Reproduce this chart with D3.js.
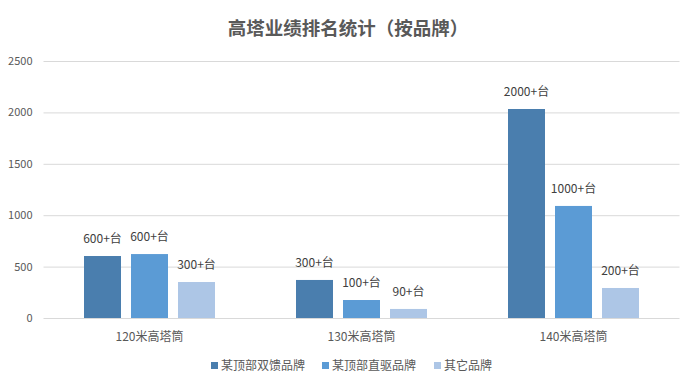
<!DOCTYPE html>
<html>
<head>
<meta charset="utf-8">
<script src="https://cdn.jsdelivr.net/npm/d3@7"></script>
<style>
  body { margin: 0; background: #fff; }
  text { font-family: "Noto Sans CJK SC", "Microsoft YaHei", sans-serif; }
</style>
</head>
<body>
<svg width="694" height="388"></svg>
<script>
// data
const categories = ['120米高塔筒', '130米高塔筒', '140米高塔筒'];
const seriesNames = ['某顶部双馈品牌', '某顶部直驱品牌', '其它品牌'];
const values = [
  [603, 370, 2033],
  [622, 175, 1090],
  [350, 88, 292]
];
const labels = [
  ['600+台', '300+台', '2000+台'],
  ['600+台', '100+台', '1000+台'],
  ['300+台', '90+台', '200+台']
];
const yTicks = [0, 500, 1000, 1500, 2000, 2500];
const colors = ['#4a7eae', '#5b9bd5', '#adc6e6'];

const margins = { left: 43.5, right: 14.5, top: 61, bottom: 70 };
const W = 694, H = 388;
const svg = d3.select('svg');

const x0 = d3.scaleBand().domain(categories).range([margins.left, W - margins.right]).paddingInner(0).paddingOuter(0);
const x1 = d3.scaleBand().domain(d3.range(seriesNames.length)).range([-65.5, 65.5]).paddingInner(10 / 47).paddingOuter(0);
const y = d3.scaleLinear().domain([0, 2500]).range([318, 61]);

// title
svg.append('text')
  .attr('x', W / 2 + 1).attr('y', 35)
  .attr('text-anchor', 'middle')
  .style('font-size', '18.5px').style('font-weight', 'bold')
  .attr('fill', '#595959')
  .text('高塔业绩排名统计（按品牌）');

// grid lines + y ticks
const yAxis = d3.axisLeft(y).tickValues(yTicks).tickFormat(d3.format('d'))
  .tickSize(-(W - margins.right - margins.left)).tickPadding(11);
const gy = svg.append('g').attr('transform', `translate(${margins.left},0)`).call(yAxis);
gy.select('.domain').remove();
gy.selectAll('line').attr('stroke', '#d9d9d9');
gy.selectAll('text').attr('fill', '#595959').style('font-size', '11px');

// bars
const groups = svg.selectAll('.grp').data(categories).enter().append('g')
  .attr('transform', (d) => `translate(${x0(d) + x0.bandwidth() / 2},0)`);

groups.each(function (cat, ci) {
  const g = d3.select(this);
  seriesNames.forEach((s, si) => {
    const v = values[si][ci];
    g.append('rect')
      .attr('x', x1(si)).attr('width', x1.bandwidth())
      .attr('y', y(v)).attr('height', y(0) - y(v))
      .attr('fill', colors[si]);
    g.append('text')
      .attr('x', x1(si) + x1.bandwidth() / 2).attr('y', y(v) - 13)
      .attr('text-anchor', 'middle')
      .attr('fill', '#404040').style('font-size', '12px')
      .text(labels[si][ci]);
  });
});

// x axis labels
const xAxis = d3.axisBottom(x0).tickSize(0).tickPadding(14);
const gx = svg.append('g').attr('transform', `translate(0,${y(0)})`).call(xAxis);
gx.select('.domain').remove();
gx.selectAll('text').attr('fill', '#595959').style('font-size', '12px');

// legend
const legendX = [211, 322, 434];
const legend = svg.append('g');
seriesNames.forEach((s, i) => {
  legend.append('rect').attr('x', legendX[i]).attr('y', 362).attr('width', 7).attr('height', 7).attr('fill', colors[i]);
  legend.append('text').attr('x', legendX[i] + 10).attr('y', 370)
    .attr('fill', '#595959').style('font-size', '12px').text(s);
});
</script>
</body>
</html>
